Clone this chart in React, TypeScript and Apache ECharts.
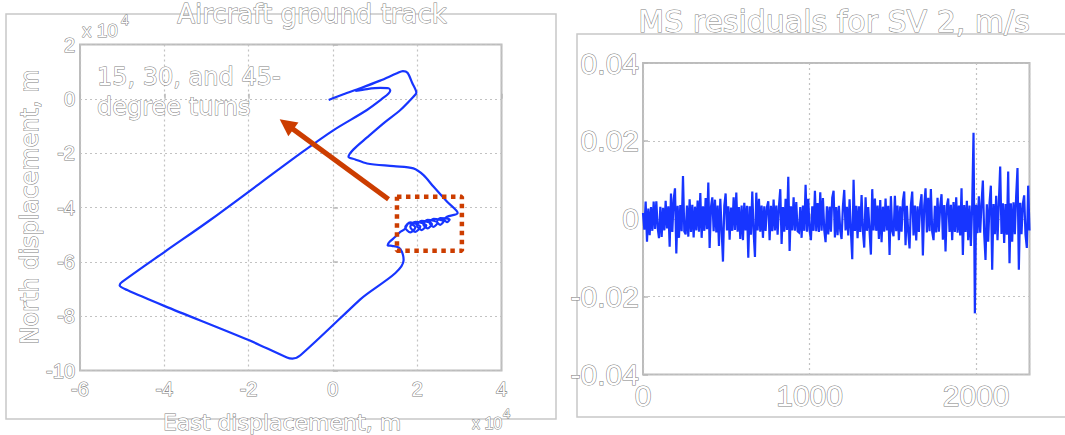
import React, { useEffect, useRef } from "react";
import * as echarts from "echarts";

// ---- Left panel: aircraft ground track (units of 1e4 m) ----
const trackEast = [
  -0.10, 0.25, 0.65, 1.12, 1.52, 1.66, 1.77, 1.88, 1.98, 1.91,
  1.60, 1.20, 0.81, 0.49, 0.37, 0.53, 0.81, 1.44, 1.91, 2.15,
  2.39, 2.71, 2.96,
  2.706, 2.643, 2.706, 2.770, 2.548, 2.469, 2.548, 2.627,
  2.390, 2.295, 2.390, 2.485, 2.247, 2.145, 2.247, 2.350,
  2.105, 1.994, 2.105, 2.216, 1.955, 1.836, 1.955, 2.074,
  1.836, 1.718, 1.836, 1.955, 1.80, 1.70,
  1.599, 1.481, 1.346, 1.299, 1.401, 1.56, 1.639, 1.678,
  0.65, -0.77, -0.96, -1.09, -2.0, -3.99, -4.88, -5.06, -5.0,
  -3.99, -2.91, -0.77, 0.018, 0.808, 1.20, 1.32, 1.36, 1.32, 1.125, 0.81, 0.53,
];
const trackNorth = [
  -0.04, 0.17, 0.39, 0.67, 0.94, 1.02, 0.96, 0.59, 0.22, 0.08,
  -0.41, -0.90, -1.42, -1.86, -2.13, -2.23, -2.38, -2.48, -2.56, -2.81,
  -3.24, -3.79, -4.20,
  -4.341, -4.440, -4.538, -4.440, -4.390, -4.513, -4.636, -4.513,
  -4.415, -4.562, -4.710, -4.562, -4.452, -4.612, -4.771, -4.612,
  -4.489, -4.660, -4.832, -4.660, -4.526, -4.710, -4.894, -4.710,
  -4.550, -4.734, -4.918, -4.734, -4.58, -4.80,
  -4.894, -5.078, -5.262, -5.385, -5.41, -5.47, -5.63, -5.937,
  -7.38, -9.44, -9.56, -9.52, -8.88, -7.63, -7.04, -6.86, -6.74,
  -5.63, -4.46, -2.01, -1.15, -0.41, 0.04, 0.20, 0.30, 0.39, 0.40, 0.36, 0.29,
];
const boxEast = [1.52, 3.06, 3.06, 1.52, 1.52];
const boxNorth = [-3.605, -3.605, -5.594, -5.594, -3.605];
const arrowFrom = [1.32, -3.70];
const arrowTo = [-1.10, -0.94];
const leftXTicks = { min: -6, max: 4, interval: 2 };
const leftYTicks = { min: -10, max: 2, interval: 2 };

// ---- Right panel: residuals (one stored value per 8 samples, in 1e-3 m/s) ----
const residualStep = 8;
const residuals = [
  1.5, -2.8, 4.4, -5.9, 2.6, -4.2, 3.0, -3.1, 4.4, -2.6,
  4.5, -2.3, -5.0, 3.1, -4.7, 2.8, -3.0, 4.6, -2.5, 3.2,
  -7.2, 6.5, -3.4, 4.9, 7.8, -8.9, 3.3, -4.9, 3.5, -3.2,
  11.0, -3.3, -4.0, 3.4, -4.6, 5.0, -3.4, 3.6, -4.8, 3.1,
  -3.0, 4.7, -3.3, 6.6, -4.9, 3.2, -3.1, 5.3, -2.7, 9.3,
  -7.5, 3.0, 5.5, -3.2, 4.9, -3.5, 3.4, -7.0, 5.1, -2.8,
  -11.0, 3.3, 6.5, -3.0, 3.2, -5.4, 2.9, -3.1, 5.5, -2.9,
  6.7, -3.3, 3.0, -5.2, 3.4, -5.5, 4.1, -3.0, 3.3, -10.0,
  3.2, -4.1, 7.0, -3.4, -9.8, 6.7, -3.0, 5.1, -3.3, 3.4,
  -4.9, 3.2, -3.1, 3.0, 4.5, -5.5, 3.3, -3.2, 4.9, -3.0,
  3.4, -4.1, 3.2, 7.6, -6.5, 3.0, -3.3, 5.1, -2.9, 10.8,
  -8.3, 3.2, -3.0, 5.5, -3.1, 4.3, -3.2, -3.5, 3.0, -4.9,
  3.4, -3.1, 8.7, -3.3, 5.1, -3.0, -5.5, 3.2, -3.1, 7.2,
  -3.2, 4.0, -3.4, 6.8, -3.1, 5.3, -2.9, -6.0, 3.2, -4.0,
  3.1, -3.3, 5.4, 7.2, -4.8, 3.0, -4.2, 3.3, -3.1, -5.2,
  3.2, 7.4, -3.0, 3.1, -4.3, 5.0, -3.2, -10.4, 10.0, -3.1,
  3.3, -5.0, 3.2, -3.4, 6.1, -3.2, -7.4, 5.5, -3.1, 3.0,
  -3.3, -9.2, 7.6, -3.0, 5.2, -3.1, 3.4, -5.2, 4.8, -6.0,
  3.1, -3.3, 5.2, -3.0, 3.3, -9.3, 5.8, -3.1, -4.5, 5.9,
  -3.2, 3.4, -5.5, 3.2, -3.3, 4.6, 7.0, -6.8, 3.3, -3.4,
  -7.6, 3.5, 7.0, -4.3, 3.4, -5.6, 3.2, -3.4, 3.5, 6.3,
  -9.4, 3.3, 7.8, -3.5, 5.4, -3.2, 7.6, -3.4, -5.5, 3.3,
  -3.5, 5.4, -3.3, 3.2, 6.3, -5.4, 3.5, -8.4, 3.3, 5.2,
  -3.4, 3.6, -5.5, 4.3, -3.4, 5.5, -3.6, 3.4, -4.3, 7.8,
  -9.3, 3.5, -3.4, 4.6, -5.5, 3.4, -7.0, 3.5, 22.1, -24.3,
  3.6, -3.7, 5.8, -3.6, 3.9, 9.8, -3.8, -10.6, 3.7, -5.9,
  4.0, 8.5, -13.1, 3.8, -4.0, 5.9, -5.5, 4.1, 13.4, -3.9,
  4.0, -6.2, 3.8, -4.1, 12.1, -11.4, 4.0, -5.9, 4.2, -4.0,
  5.9, 13.0, -13.1, 4.1, -4.0, 3.8, 6.0, -4.1, -7.5, 8.5,
  -3.0,
];
const rightXTicks = { min: 0, max: 2320, interval: 1000 };
const rightYTicks = { min: -0.04, max: 0.04, interval: 0.02 };

const leftTitle = "Aircraft ground track";
const rightTitle = "MS residuals for SV 2, m/s";
const leftXName = "East displacement, m";
const leftYName = "North displacement, m";
const noteText = "15, 30, and 45-\ndegree turns";

const BLUE = "#1735ff";
const ORANGE = "#cc3d00";
const OUT = "#7e7e7e";
const hollowLabel = { color: "#ffffff", textBorderColor: OUT, textBorderWidth: 1.1 };
const hollowStyle = (size: number, family = "DejaVu Sans") => ({
  fill: "#ffffff",
  stroke: OUT,
  lineWidth: 1.0,
  fontSize: size,
  fontFamily: family,
});

export default function App() {
  const ref = useRef<HTMLDivElement>(null);
  useEffect(() => {
    if (!ref.current) return;
    const chart = echarts.init(ref.current, null, { renderer: "svg" });
    const track = trackEast.map((e, i) => [e, trackNorth[i]]);
    const box = boxEast.map((e, i) => [e, boxNorth[i]]);
    const res = residuals.map((v, i) => [i * residualStep, v / 1000]);

    const splitDots = { show: true, lineStyle: { color: "#c2c2c2", width: 1.2, type: [2, 3] } };
    const tick = { show: true, inside: true, length: 5, lineStyle: { color: "#b9b9b9", width: 1.5 } };

    chart.setOption({
      animation: false,
      backgroundColor: "#ffffff",
      grid: [
        { left: 80, top: 44.5, width: 421.5, height: 326, show: true, borderColor: "#bcbcbc", borderWidth: 2 },
        { left: 643, top: 63, width: 386.5, height: 311.5, show: true, borderColor: "#bcbcbc", borderWidth: 2 },
      ],
      xAxis: [
        {
          type: "value", gridIndex: 0, ...leftXTicks,
          axisLine: { show: false }, axisTick: tick, splitLine: splitDots,
          axisLabel: { ...hollowLabel, fontSize: 20, fontFamily: "Liberation Sans", margin: 8 },
        },
        {
          type: "value", gridIndex: 1, ...rightXTicks,
          axisLine: { show: false }, axisTick: tick, splitLine: splitDots,
          axisLabel: {
            ...hollowLabel, fontSize: 30, fontFamily: "Liberation Sans", margin: 6,
            showMaxLabel: false,
            formatter: (v: number) => String(v),
          },
        },
      ],
      yAxis: [
        {
          type: "value", gridIndex: 0, ...leftYTicks,
          axisLine: { show: false }, axisTick: tick, splitLine: splitDots,
          axisLabel: { ...hollowLabel, fontSize: 20, fontFamily: "Liberation Sans", margin: 5 },
        },
        {
          type: "value", gridIndex: 1, ...rightYTicks,
          axisLine: { show: false }, axisTick: tick, splitLine: splitDots,
          axisLabel: {
            ...hollowLabel, fontSize: 30, fontFamily: "Liberation Sans", margin: 4,
            formatter: (v: number) => (Math.abs(v) < 1e-9 ? "0" : v.toFixed(2)),
          },
        },
      ],
      series: [
        {
          type: "line", xAxisIndex: 0, yAxisIndex: 0, data: track,
          showSymbol: false, smooth: 0.3, z: 3,
          lineStyle: { color: BLUE, width: 2.2 },
        },
        {
          type: "line", xAxisIndex: 0, yAxisIndex: 0, data: box,
          showSymbol: false, z: 4,
          lineStyle: { color: ORANGE, width: 4.5, type: [4.5, 4.5], cap: "butt" },
        },
        {
          type: "lines", coordinateSystem: "cartesian2d", xAxisIndex: 0, yAxisIndex: 0,
          symbol: ["none", "triangle"], symbolSize: [15, 17], z: 5, silent: true,
          lineStyle: { color: ORANGE, width: 5, opacity: 1, curveness: 0 },
          data: [{ coords: [arrowFrom, arrowTo] }],
        },
        {
          type: "line", xAxisIndex: 1, yAxisIndex: 1, data: res,
          showSymbol: false, z: 3,
          lineStyle: { color: BLUE, width: 2.2, join: "miter" },
        },
      ],
      graphic: [
        { type: "rect", shape: { x: 6, y: 14, width: 550, height: 405 }, style: { fill: "none", stroke: "#c8c8c8", lineWidth: 1.5 }, z: 0 },
        { type: "rect", shape: { x: 577, y: 34, width: 500, height: 383 }, style: { fill: "none", stroke: "#c8c8c8", lineWidth: 1.5 }, z: 0 },
        { type: "text", x: 312, y: 14, z: 10, style: { ...hollowStyle(26), text: leftTitle, align: "center", verticalAlign: "middle" } },
        { type: "text", x: 834, y: 21, z: 10, style: { ...hollowStyle(30), text: rightTitle, align: "center", verticalAlign: "middle" } },
        { type: "text", x: 30, y: 207, rotation: Math.PI / 2, z: 10, style: { ...hollowStyle(24), text: leftYName, align: "center", verticalAlign: "middle" } },
        { type: "text", x: 282, y: 422, z: 10, style: { ...hollowStyle(22), text: leftXName, align: "center", verticalAlign: "middle" } },
        { type: "text", x: 82, y: 30, z: 10, style: { ...hollowStyle(19, "Liberation Sans"), text: "x 10", align: "left", verticalAlign: "middle" } },
        { type: "text", x: 121, y: 20, z: 10, style: { ...hollowStyle(14, "Liberation Sans"), text: "4", align: "left", verticalAlign: "middle" } },
        { type: "text", x: 472, y: 423, z: 10, style: { ...hollowStyle(16, "Liberation Sans"), text: "x 10", align: "left", verticalAlign: "middle" } },
        { type: "text", x: 503, y: 413, z: 10, style: { ...hollowStyle(13, "Liberation Sans"), text: "4", align: "left", verticalAlign: "middle" } },
        { type: "text", x: 97, y: 92, z: 10, style: { ...hollowStyle(24), text: noteText, lineHeight: 30, align: "left", verticalAlign: "middle" } },
      ],
    });
    return () => chart.dispose();
  }, []);
  return <div ref={ref} style={{ position: "fixed", left: 0, top: 0, width: 1065, height: 435 }} />;
}
